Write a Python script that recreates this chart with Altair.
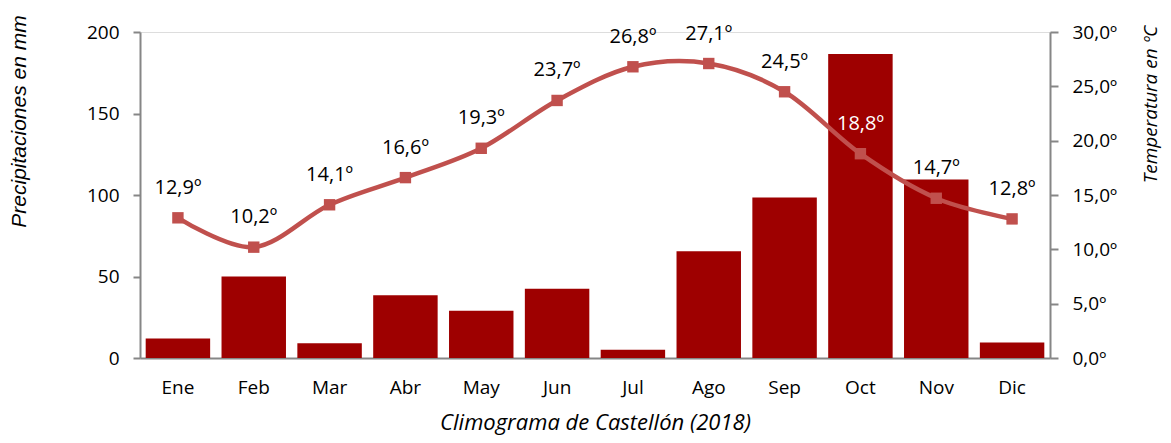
import altair as alt
import pandas as pd

months = ["Ene", "Feb", "Mar", "Abr", "May", "Jun", "Jul", "Ago", "Sep", "Oct", "Nov", "Dic"]
precip = [12, 50, 9, 38.5, 29, 42.5, 5, 65.5, 98.5, 186.5, 109.5, 9.5]
temp = [12.9, 10.2, 14.1, 16.6, 19.3, 23.7, 26.8, 27.1, 24.5, 18.8, 14.7, 12.8]
label_color = ["black"] * 9 + ["white"] + ["black"] * 2

df = pd.DataFrame({"mes": months, "precip": precip, "temp": temp, "lc": label_color})

FONT = "Open Sans"
AXIS_GRAY = "#868686"
BAR = "#9e0000"
LINE = "#c0504d"

x = alt.X(
    "mes:N",
    sort=months,
    scale=alt.Scale(paddingInner=0.15, paddingOuter=0.075),
    axis=alt.Axis(
        title="Climograma de Castellón (2018)",
        titleFont=FONT,
        titleFontSize=22,
        titleFontStyle="italic",
        titleFontWeight="normal",
        titleColor="black",
        titlePadding=15,
        labelAngle=0,
        labelFont=FONT,
        labelFontSize=19,
        labelColor="black",
        labelPadding=20,
        ticks=False,
        domainColor=AXIS_GRAY,
        domainWidth=2,
        grid=False,
    ),
)

bars = alt.Chart(df).mark_bar(color=BAR).encode(
    x=x,
    y=alt.Y(
        "precip:Q",
        scale=alt.Scale(domain=[0, 200], nice=False),
        axis=alt.Axis(
            orient="left",
            values=[0, 50, 100, 150, 200],
            title="Precipitaciones en mm",
            titleFont="Liberation Sans",
            titleFontSize=21,
            titleFontStyle="italic",
            titleFontWeight="normal",
            titleColor="black",
            titleX=-121,
            titleY=89,
            titleAngle=270,
            titleAlign="center",
            titleBaseline="middle",
            labelFont=FONT,
            labelFontSize=19,
            labelColor="black",
            labelPadding=14,
            tickSize=7,
            tickColor=AXIS_GRAY,
            tickWidth=2,
            domainColor=AXIS_GRAY,
            domainWidth=2,
            grid=False,
        ),
    ),
)

temp_y = alt.Y(
    "temp:Q",
    scale=alt.Scale(domain=[0, 30], nice=False),
    axis=alt.Axis(
        orient="right",
        values=[0, 5, 10, 15, 20, 25, 30],
        labelExpr="replace(format(datum.value, '.1f'), '.', ',') + 'º'",
        title="Temperatura en ºC",
        titleFont=FONT,
        titleFontSize=19,
        titleFontStyle="italic",
        titleFontWeight="normal",
        titleColor="black",
        titleX=100,
        titleY=72,
        titleAngle=270,
        titleAlign="center",
        titleBaseline="middle",
        labelFont=FONT,
        labelFontSize=19,
        labelColor="black",
        labelPadding=14,
        tickSize=8,
        tickColor=AXIS_GRAY,
        tickWidth=2,
        domainColor=AXIS_GRAY,
        domainWidth=2,
        grid=False,
    ),
)

line = alt.Chart(df).mark_line(color=LINE, strokeWidth=4.5, interpolate="cardinal").encode(
    x=x, y=temp_y
)
points = alt.Chart(df).mark_point(
    shape="square", filled=True, color=LINE, size=130, opacity=1
).encode(x=x, y=temp_y)
labels = alt.Chart(df).transform_calculate(
    lab="replace(format(datum.temp, '.1f'), '.', ',') + 'º'"
).mark_text(font=FONT, fontSize=20, dy=-30, baseline="middle").encode(
    x=x,
    y=temp_y,
    text="lab:N",
    color=alt.Color("lc:N", scale=None),
)

right = alt.layer(line, points, labels)

chart = (
    alt.layer(bars, right)
    .resolve_scale(y="independent")
    .properties(
        width=910,
        height=326,
        autosize=alt.AutoSizeParams(type="none"),
        padding={"left": 132, "top": 24, "right": 113, "bottom": 77},
    )
    .configure_view(stroke=None)
    .configure(background="white")
)

chart.save("out.html", embed_options={"renderer": "svg", "actions": False})
